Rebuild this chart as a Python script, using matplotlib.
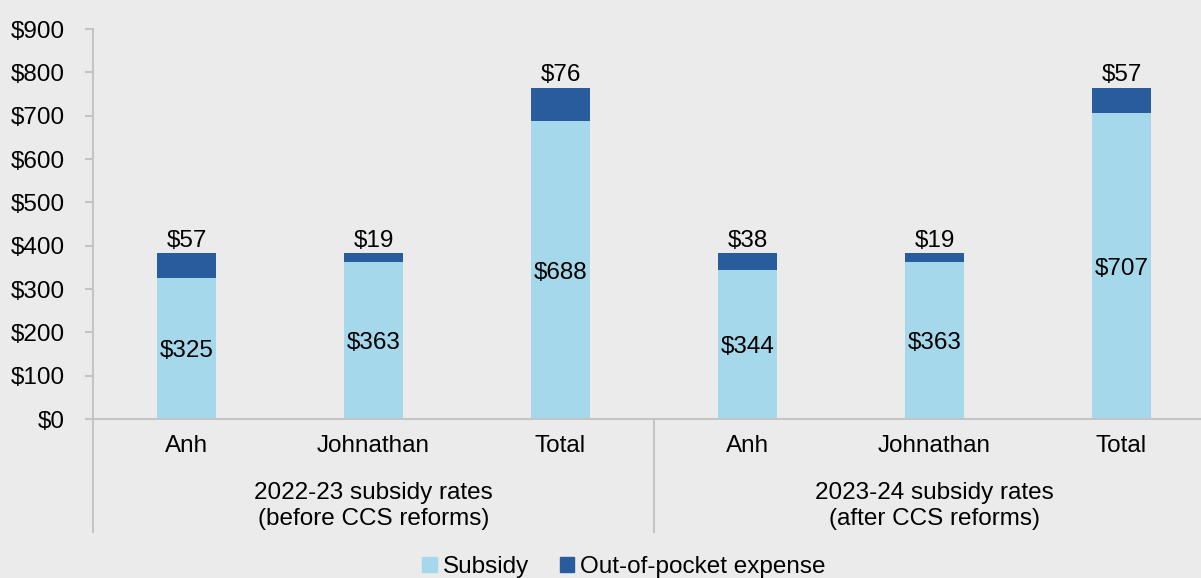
import matplotlib
matplotlib.use("Agg")
import matplotlib.pyplot as plt
import numpy as np
from matplotlib.patches import Patch

categories = ["Anh", "Johnathan", "Total", "Anh", "Johnathan", "Total"]
groups = ["2022-23 subsidy rates\n(before CCS reforms)",
          "2023-24 subsidy rates\n(after CCS reforms)"]
subsidy = [325, 363, 688, 344, 363, 707]
out_of_pocket = [57, 19, 76, 38, 19, 57]
yticks = [0, 100, 200, 300, 400, 500, 600, 700, 800, 900]

light_blue = "#A5D8EA"
dark_blue = "#285C9C"
bg = "#EBEBEB"
grey = "#C4C4C4"

plt.rcParams['font.family'] = ['Liberation Sans', 'DejaVu Sans']
fs = 17.5

fig = plt.figure(figsize=(12.01, 5.78), dpi=100)
fig.patch.set_facecolor(bg)
W, H = 1201, 578
ax = fig.add_axes([93 / W, 159 / H, (1215 - 93) / W, 390 / H])
ax.set_facecolor(bg)

x = np.arange(len(categories))
w = 0.316
ax.bar(x, subsidy, width=w, color=light_blue)
ax.bar(x, out_of_pocket, width=w, bottom=subsidy, color=dark_blue)

for i in range(len(x)):
    ax.annotate(f"${subsidy[i]}", (x[i], subsidy[i] / 2),
                xytext=(0, -2), textcoords='offset points',
                ha='center', va='center', fontsize=fs)
    ax.annotate(f"${out_of_pocket[i]}", (x[i], subsidy[i] + out_of_pocket[i]),
                xytext=(0, 9), textcoords='offset points',
                ha='center', va='center', fontsize=fs)

ax.set_xlim(-0.5, 5.5)
ax.set_ylim(0, 900)
ax.set_yticks(yticks)
ax.set_yticklabels([f"${v}" for v in yticks], fontsize=fs)
ax.set_xticks([])
ax.tick_params(axis='y', length=6, color=grey, width=1.5, pad=14)

for s in ['top', 'right']:
    ax.spines[s].set_visible(False)
for s in ['left', 'bottom']:
    ax.spines[s].set_color(grey)
    ax.spines[s].set_linewidth(1.5)

trans = ax.get_xaxis_transform()
low = -(532 - 419) / 390
for xv in [-0.5, 2.5]:
    ax.plot([xv, xv], [0, low], transform=trans, color=grey, lw=1.5, clip_on=False)

for i, c in enumerate(categories):
    ax.text(x[i], -(446 - 419) / 390, c, transform=trans, ha='center', va='center', fontsize=fs)
for g, xc in zip(groups, [1, 4]):
    ax.text(xc, -(506 - 419) / 390, g, transform=trans, ha='center', va='center',
            fontsize=fs, linespacing=1.25)

handles = [Patch(color=light_blue, label="Subsidy"),
           Patch(color=dark_blue, label="Out-of-pocket expense")]
fig.legend(handles=handles, loc='center', bbox_to_anchor=(624 / W, 1 - 567 / H), ncol=2,
           frameon=False, fontsize=fs, handlelength=0.6, handleheight=0.6,
           handletextpad=0.25, columnspacing=1.25, borderpad=0)

fig.savefig("out.png", dpi=100, facecolor=bg)
